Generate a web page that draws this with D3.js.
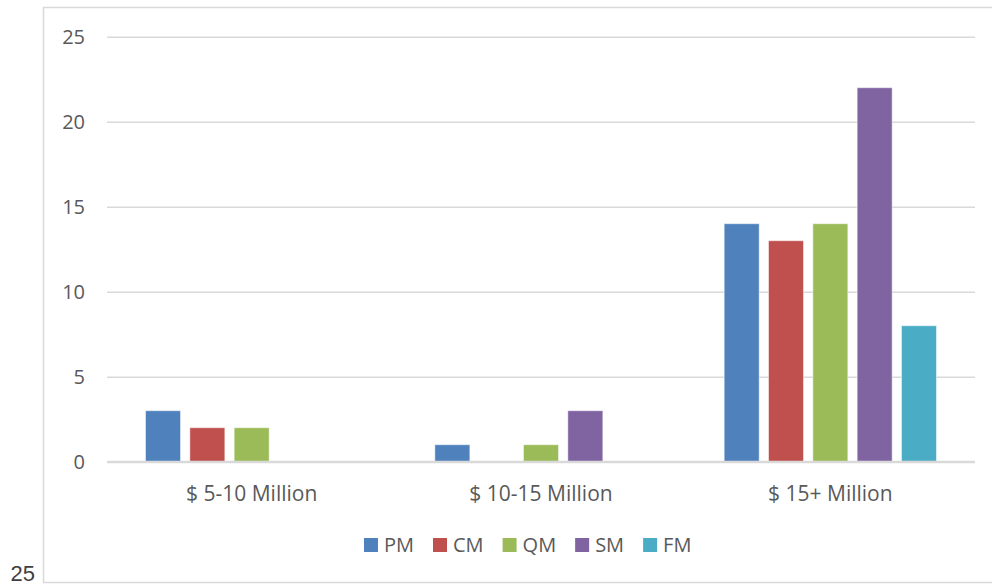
<!DOCTYPE html>
<html>
<head>
<meta charset="utf-8">
<script src="https://cdn.jsdelivr.net/npm/d3@7"></script>
<style>
  body { margin: 0; background: #fff; }
  text { font-family: "Open Sans", sans-serif; }
</style>
</head>
<body>
<div id="chart"></div>
<script>
// data
const categories = ["$ 5-10 Million", "$ 10-15 Million", "$ 15+ Million"];
const seriesNames = ["PM", "CM", "QM", "SM", "FM"];
const seriesColors = ["#4F81BD", "#C0504D", "#9BBB59", "#8064A2", "#4BACC6"];
const PM = [3, 1, 14];
const CM = [2, 0, 13];
const QM = [2, 1, 14];
const SM = [0, 3, 22];
const FM = [0, 0, 8];
const yTicks = [0, 5, 10, 15, 20, 25];

const seriesValues = [PM, CM, QM, SM, FM];
const rows = categories.map((c, i) => ({
  category: c,
  values: seriesNames.map((s, j) => ({ key: s, value: seriesValues[j][i] }))
}));

const width = 992;
const height = 587;
const margin = { top: 36.7, right: 17, bottom: 125.3, left: 107 };

const svg = d3.select("#chart")
  .append("svg")
  .attr("width", width)
  .attr("height", height);

// outer frame
svg.append("rect")
  .attr("x", 43.5)
  .attr("y", 7.5)
  .attr("width", 960)
  .attr("height", 575)
  .attr("fill", "none")
  .attr("stroke", "#d9d9d9")
  .attr("stroke-width", 1.5);

// stray label bottom-left
svg.append("text")
  .attr("x", 35)
  .attr("y", 581)
  .attr("text-anchor", "end")
  .attr("fill", "#404040")
  .style("font-family", "'Liberation Sans', Arial, sans-serif")
  .attr("font-size", 22)
  .text("25");

// scales
const x0 = d3.scaleBand()
  .domain(categories)
  .range([margin.left, width - margin.right])
  .paddingInner(0.234)
  .paddingOuter(0.117);

const x1 = d3.scaleBand()
  .domain(seriesNames)
  .range([0, x0.bandwidth()])
  .paddingInner(0.21)
  .paddingOuter(0.105);

const y = d3.scaleLinear()
  .domain([0, 25])
  .range([height - margin.bottom, margin.top]);

const color = d3.scaleOrdinal().domain(seriesNames).range(seriesColors);

// gridlines + y labels
const yAxis = d3.axisLeft(y)
  .tickValues(yTicks)
  .tickSize(-(width - margin.left - margin.right))
  .tickPadding(22);

const yAxisGroup = svg.append("g")
  .attr("transform", `translate(${margin.left}, 0)`)
  .call(yAxis);

yAxisGroup.select(".domain").remove();
yAxisGroup.selectAll(".tick line")
  .attr("stroke", "#d9d9d9")
  .attr("stroke-width", (d) => d === 0 ? 2 : 1.5);
yAxisGroup.selectAll(".tick text")
  .attr("fill", "#595959")
  .attr("font-size", 20)
  .style("font-family", "'Open Sans', sans-serif");

// bars
const groups = svg.append("g")
  .selectAll("g")
  .data(rows)
  .join("g")
  .attr("transform", (d) => `translate(${x0(d.category)}, 0)`);

groups.selectAll("rect")
  .data((d) => d.values.filter((v) => v.value > 0))
  .join("rect")
  .attr("x", (d) => x1(d.key))
  .attr("y", (d) => y(d.value))
  .attr("width", x1.bandwidth())
  .attr("height", (d) => y(0) - y(d.value))
  .attr("fill", (d) => color(d.key))
  .attr("stroke", "#ffffff")
  .attr("stroke-opacity", 0.5)
  .attr("stroke-width", 1);

// redraw zero line on top
svg.append("line")
  .attr("x1", margin.left)
  .attr("x2", width - margin.right)
  .attr("y1", y(0))
  .attr("y2", y(0))
  .attr("stroke", "#d9d9d9")
  .attr("stroke-width", 2);

// x labels
const xAxis = d3.axisBottom(x0).tickSize(0).tickPadding(24);
const xAxisGroup = svg.append("g")
  .attr("transform", `translate(0, ${y(0)})`)
  .call(xAxis);
xAxisGroup.select(".domain").remove();
xAxisGroup.selectAll(".tick text")
  .attr("fill", "#595959")
  .attr("font-size", 21)
  .style("font-family", "'Open Sans', sans-serif");

// legend
const legend = svg.append("g");
let lx = 0;
seriesNames.forEach((s, i) => {
  const item = legend.append("g").attr("transform", `translate(${lx}, 0)`);
  item.append("rect")
    .attr("x", 0)
    .attr("y", 538)
    .attr("width", 14)
    .attr("height", 14)
    .attr("fill", color(s));
  const t = item.append("text")
    .attr("x", 20)
    .attr("y", 552)
    .attr("fill", "#595959")
    .attr("font-size", 20)
    .text(s);
  lx += 20 + t.node().getComputedTextLength() + 19;
});
const legendWidth = lx - 19;
legend.attr("transform", `translate(${(362.7 + 692.7) / 2 - legendWidth / 2}, 0)`);
</script>
</body>
</html>
